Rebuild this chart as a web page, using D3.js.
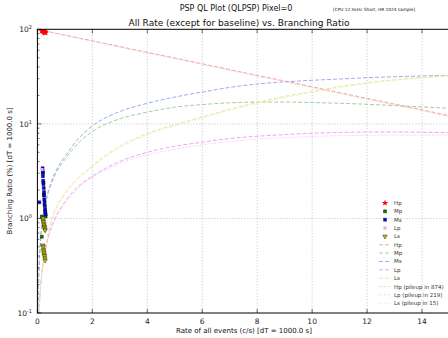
<!DOCTYPE html>
<html>
<head>
<meta charset="utf-8">
<script src="https://cdn.jsdelivr.net/npm/d3@7/dist/d3.min.js"></script>
<style>
  body { margin: 0; background: #fff; }
  svg { display: block; font-family: "DejaVu Sans", sans-serif; }
</style>
</head>
<body>
<script>
const width = 448, height = 338;

// model curves, sampled at these rates (c/s)
const rates = [0.02, 0.05, 0.1, 0.2, 0.3, 0.5, 0.75, 1, 1.5, 2, 3, 4, 5, 6, 7, 8, 9, 10, 11, 12, 13, 14, 15];
const hpCurve = [99.7, 99.3, 98.6, 97.2, 95.9, 93.2, 90, 87, 81, 75.6, 65.7, 57, 49.7, 43.2, 37.5, 32.6, 28.4, 24.7, 21.4, 18.6, 16.2, 14.1, 12.2];
const mpCurve = [0.1, 0.25, 0.5, 1.0, 1.45, 2.3, 3.3, 4.2, 6.3, 8.3, 11.3, 13.3, 15, 16, 16.7, 17, 17, 16.8, 16.5, 16.1, 15.6, 15.1, 14.6];
const msCurve = [0.1, 0.25, 0.5, 1.0, 1.5, 2.4, 3.5, 4.5, 7, 9.5, 13.5, 16.5, 19.2, 21.7, 24.3, 26.4, 27.8, 28.9, 29.8, 30.8, 31.5, 32.1, 32.6];
const lpCurve = [0.03, 0.08, 0.16, 0.32, 0.48, 0.8, 1.15, 1.5, 2.2, 2.8, 4.0, 5.0, 5.8, 6.4, 7.0, 7.4, 7.7, 7.95, 8.1, 8.2, 8.2, 8.15, 8.1];
const lsCurve = [0.04, 0.1, 0.17, 0.33, 0.5, 0.95, 1.4, 1.85, 2.7, 3.6, 5.8, 7.9, 9.8, 11.8, 14.3, 16.8, 19.5, 22, 24.8, 27.2, 29.3, 31, 32.5];
const hpPileup = [99.5, 99, 98.2, 96.8, 95.4, 92.6, 89.3, 86.2, 80.2, 74.8, 64.9, 56.2, 49, 42.5, 36.9, 32, 27.9, 24.2, 21, 18.2, 15.8, 13.8, 11.9];
const lpPileup = [0.03, 0.08, 0.16, 0.31, 0.46, 0.77, 1.1, 1.43, 2.1, 2.7, 3.8, 4.7, 5.4, 6.0, 6.5, 6.9, 7.15, 7.35, 7.5, 7.55, 7.6, 7.6, 7.6];
const lsPileup = [0.04, 0.1, 0.17, 0.32, 0.48, 0.92, 1.36, 1.8, 2.62, 3.5, 5.6, 7.6, 9.5, 11.5, 14, 16.4, 19, 21.5, 24.2, 26.6, 28.7, 30.4, 31.9];

// measured points [rate, ratio]
const hpPts = [[0.16, 96], [0.18, 99], [0.19, 98], [0.2, 97], [0.21, 97], [0.22, 96], [0.23, 95], [0.24, 95], [0.25, 94], [0.26, 94], [0.27, 93], [0.28, 93], [0.3, 92]];
const mpPts = [[0.16, 1.05], [0.16, 0.64], [0.2, 3.0], [0.22, 2.4], [0.24, 1.8], [0.26, 1.4], [0.28, 1.2], [0.3, 1.05]];
const msPts = [[0.07, 1.48], [0.19, 3.4], [0.2, 3.1], [0.2, 2.8], [0.21, 2.5], [0.22, 2.3], [0.23, 2.1], [0.24, 1.9], [0.24, 1.75], [0.25, 1.6], [0.26, 1.5], [0.27, 1.35], [0.28, 1.25], [0.29, 1.15], [0.3, 1.1]];
const lpPts = [[0.17, 3.3], [0.2, 0.98], [0.24, 0.85], [0.28, 0.76], [0.2, 0.52], [0.24, 0.44], [0.28, 0.38]];
const lsPts = [[0.2, 1.0], [0.21, 0.95], [0.22, 0.92], [0.23, 0.88], [0.24, 0.85], [0.25, 0.82], [0.26, 0.8], [0.27, 0.77], [0.28, 0.75],
               [0.2, 0.52], [0.21, 0.5], [0.22, 0.47], [0.23, 0.45], [0.24, 0.43], [0.25, 0.41], [0.26, 0.4], [0.27, 0.38], [0.28, 0.36]];

const xTicks = [0, 2, 4, 6, 8, 10, 12, 14];
const yTicks = [0.1, 1, 10, 100];
const yExp = ['-1', '0', '1', '2'];

const mLeft = 37.4, mRight = 449.5, mTop = 29.3, mBottom = 313;

const x = d3.scaleLinear().domain([0, 15]).range([mLeft, mRight]);
const y = d3.scaleLog().domain([0.1, 100]).range([mBottom, mTop]);

const svg = d3.select('body').append('svg')
    .attr('width', width)
    .attr('height', height);

svg.append('defs').append('clipPath').attr('id', 'clip')
    .append('rect').attr('x', mLeft).attr('y', mTop).attr('width', mRight - mLeft).attr('height', mBottom - mTop);

// grid
const grid = svg.append('g').attr('stroke', '#b0b0b0').attr('stroke-width', 0.8).attr('stroke-dasharray', '1,2');
grid.selectAll('.gx').data(xTicks.slice(1)).enter().append('line')
    .attr('x1', d => x(d)).attr('x2', d => x(d)).attr('y1', mTop).attr('y2', mBottom);
grid.selectAll('.gy').data(yTicks.slice(1, 3)).enter().append('line')
    .attr('x1', mLeft).attr('x2', mRight).attr('y1', d => y(d)).attr('y2', d => y(d));

// model curves
const series = [
    {name: 'Hp', vals: hpCurve, color: '#f4a6a6', dash: '4,2'},
    {name: 'Mp', vals: mpCurve, color: '#9fd09f', dash: '4,2'},
    {name: 'Ms', vals: msCurve, color: '#a6a6f4', dash: '4,2'},
    {name: 'Lp', vals: lpCurve, color: '#f0a4f0', dash: '4,2'},
    {name: 'Ls', vals: lsCurve, color: '#e6e69c', dash: '4,2'},
    {name: 'Hp (pileup in 874)', vals: hpPileup, color: '#f7b8b8', dash: '1,1.5'},
    {name: 'Lp (pileup in 219)', vals: lpPileup, color: '#f4bcf4', dash: '1,1.5'},
    {name: 'Ls (pileup in 15)', vals: lsPileup, color: '#e8e8a8', dash: '1,1.5'}
];

const line = d3.line()
    .x((d, i) => x(rates[i]))
    .y(d => y(d))
    .curve(d3.curveMonotoneX);

const plot = svg.append('g').attr('clip-path', 'url(#clip)');
plot.selectAll('path.curve').data(series).enter().append('path')
    .attr('class', 'curve')
    .attr('fill', 'none')
    .attr('stroke', d => d.color)
    .attr('stroke-width', 1)
    .attr('stroke-dasharray', d => d.dash)
    .attr('d', d => line(d.vals));

// measured points
const pts = [
    {name: 'Hp', data: hpPts, color: '#ff0000', edge: 'none', shape: d3.symbolStar, size: 14},
    {name: 'Mp', data: mpPts, color: '#008000', edge: '#000', shape: d3.symbolSquare, size: 9},
    {name: 'Ms', data: msPts, color: '#0000ff', edge: '#000', shape: d3.symbolSquare, size: 9},
    {name: 'Lp', data: lpPts, color: '#f0a0f0', edge: 'none', shape: d3.symbolSquare, size: 9},
    {name: 'Ls', data: lsPts, color: '#bfbf00', edge: '#000', shape: d3.symbolTriangle, size: 9}
];

pts.forEach(function (s) {
    plot.append('g').selectAll('path').data(s.data).enter().append('path')
        .attr('transform', d => 'translate(' + x(d[0]) + ',' + y(d[1]) + ')' + (s.shape === d3.symbolTriangle ? ' rotate(180)' : ''))
        .attr('d', d3.symbol().type(s.shape).size(s.size))
        .attr('fill', s.color)
        .attr('stroke', s.edge)
        .attr('stroke-width', 0.4);
});

// frame
svg.append('rect').attr('x', mLeft).attr('y', mTop).attr('width', mRight - mLeft).attr('height', mBottom - mTop)
    .attr('fill', 'none').attr('stroke', '#000').attr('stroke-width', 1);

// ticks (inward, matplotlib classic)
const tk = svg.append('g').attr('stroke', '#000').attr('stroke-width', 0.6);
tk.selectAll('.tx').data(xTicks).enter().append('line')
    .attr('x1', d => x(d)).attr('x2', d => x(d)).attr('y1', mBottom).attr('y2', mBottom - 4);
tk.selectAll('.tx2').data(xTicks).enter().append('line')
    .attr('x1', d => x(d)).attr('x2', d => x(d)).attr('y1', mTop).attr('y2', mTop + 4);
const minor = [];
[0.1, 1, 10].forEach(b => { for (let k = 2; k <= 9; k++) minor.push(b * k); });
tk.selectAll('.ty').data(yTicks).enter().append('line')
    .attr('x1', mLeft).attr('x2', mLeft + 4).attr('y1', d => y(d)).attr('y2', d => y(d));
tk.selectAll('.tym').data(minor).enter().append('line')
    .attr('x1', mLeft).attr('x2', mLeft + 2).attr('y1', d => y(d)).attr('y2', d => y(d));

// tick labels
svg.append('g').selectAll('text').data(xTicks).enter().append('text')
    .attr('x', d => x(d)).attr('y', 324)
    .attr('text-anchor', 'middle').attr('font-size', 7.5).attr('fill', '#222')
    .text(d => d);

const yl = svg.append('g').selectAll('text').data(yTicks).enter().append('text')
    .attr('x', 32).attr('y', d => y(d) + 3)
    .attr('text-anchor', 'end').attr('font-size', 7.5).attr('fill', '#222');
yl.append('tspan').text('10');
yl.append('tspan').attr('dy', -3).attr('font-size', 5).text((d, i) => yExp[i]);

// titles
svg.append('text').attr('x', 236).attr('y', 11).attr('text-anchor', 'middle')
    .attr('font-size', 8).attr('fill', '#111').text('PSP QL Plot (QLPSP) Pixel=0');
svg.append('text').attr('x', 333).attr('y', 11).attr('font-size', 4.3).attr('fill', '#111')
    .text('[CPU 12.5kHz Short, HR 1024 sample]');
svg.append('text').attr('x', 239).attr('y', 26).attr('text-anchor', 'middle')
    .attr('font-size', 9).attr('fill', '#111').text('All Rate (except for baseline) vs. Branching Ratio');
svg.append('text').attr('x', 244).attr('y', 333).attr('text-anchor', 'middle')
    .attr('font-size', 7).attr('fill', '#111').text('Rate of all events (c/s)  [dT = 1000.0 s]');
svg.append('text').attr('transform', 'translate(12,171) rotate(-90)').attr('text-anchor', 'middle')
    .attr('font-size', 7).attr('fill', '#111').text('Branching Ratio (%) [dT = 1000.0 s]');

// legend
const lg = svg.append('g').attr('transform', 'translate(0,203)');
const step = 8.35;
pts.forEach(function (s, i) {
    lg.append('path')
        .attr('transform', 'translate(385,' + (i * step) + ')' + (s.shape === d3.symbolTriangle ? ' rotate(180)' : ''))
        .attr('d', d3.symbol().type(s.shape).size(s.size))
        .attr('fill', s.color).attr('stroke', s.edge).attr('stroke-width', 0.4);
    lg.append('text').attr('x', 394).attr('y', i * step + 2).attr('font-size', 5.5).attr('fill', '#333').text(s.name);
});
series.forEach(function (s, j) {
    const i = j + pts.length;
    lg.append('line').attr('x1', 379).attr('x2', 391).attr('y1', i * step).attr('y2', i * step)
        .attr('stroke', s.color).attr('stroke-width', 1).attr('stroke-dasharray', s.dash);
    lg.append('text').attr('x', 394).attr('y', i * step + 2).attr('font-size', 5.5).attr('fill', '#333').text(s.name);
});
</script>
</body>
</html>
